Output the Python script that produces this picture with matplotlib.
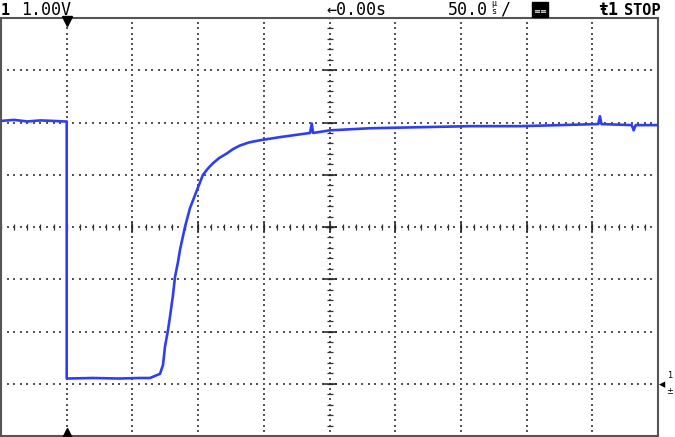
import numpy as np
import matplotlib
matplotlib.use('Agg')
import matplotlib.pyplot as plt
from matplotlib.patches import Rectangle

# scope settings: 1.00 V/div, 50 us/div, trigger at t=0, ground marker at 0 V
volts_per_div = 1.0
us_per_div = 50.0

# trace (time in us, voltage in V)
t_us = [-50, -40, -30, -20, -10, -2, 0, 0, 20, 40, 55, 63.4, 67.2, 71.0, 73.3,
        74.8, 77.1, 78.6, 80.9, 82.4, 84.7, 86.2, 90.0, 93.8, 99.2, 103.7, 107.5,
        111.3, 116.0, 122.0, 126.5, 131.9, 139.0, 147.1, 162.3, 185.2, 186.5,
        187.5, 200.4, 230.8, 268.9, 306.9, 345.0, 375.4, 404.5, 405.8, 407.0,
        430.0, 431.5, 433.0, 450.0]
v_volts = [5.03, 5.05, 5.02, 5.04, 5.03, 5.02, 5.02, 0.10, 0.11, 0.10, 0.11, 0.11,
           0.15, 0.19, 0.36, 0.71, 1.03, 1.28, 1.70, 2.04, 2.33, 2.56, 3.00, 3.36,
           3.71, 4.00, 4.12, 4.22, 4.32, 4.41, 4.49, 4.56, 4.62, 4.66, 4.72, 4.80,
           4.98, 4.80, 4.85, 4.89, 4.91, 4.93, 4.93, 4.95, 4.97, 5.12, 4.97, 4.95,
           4.85, 4.95, 4.95]

t_min, t_max = -50, 450
v_min, v_max = -1, 7

W, H = 675, 437
fig = plt.figure(figsize=(W / 100, H / 100), dpi=100)
ax = fig.add_axes([1 / W, 1 / H, 657 / W, 418 / H])
ax.set_xlim(t_min, t_max)
ax.set_ylim(v_min, v_max)
ax.set_xticks([])
ax.set_yticks([])
for s in ax.spines.values():
    s.set_color('#555555')
    s.set_linewidth(1.5)

dot = dict(marker='s', s=1.0, color='#555555', linewidths=0, zorder=1)
# dotted graticule, dots every 0.1 div
h_lines = np.arange(v_min + 1, v_max, volts_per_div)
v_lines = np.arange(t_min + us_per_div, t_max, us_per_div)
tx = np.arange(t_min, t_max + 0.01, us_per_div / 10)
vy = np.arange(v_min, v_max + 0.01, volts_per_div / 10)
for v in h_lines:
    ax.scatter(tx, np.full_like(tx, v), **dot)
for t in v_lines:
    ax.scatter(np.full_like(vy, t), vy, **dot)

# centre cross with minor ticks every 0.2 div
tc, vc = 200, 3
ticks_t = np.arange(t_min, t_max + 0.01, us_per_div / 5)
ticks_v = np.arange(v_min, v_max + 0.01, volts_per_div / 5)
ax.scatter(ticks_t, np.full_like(ticks_t, vc), marker='|', s=18, color='#333333',
           linewidths=0.9, zorder=1)
ax.scatter(np.full_like(ticks_v, tc), ticks_v, marker='_', s=22, color='#333333',
           linewidths=0.9, zorder=1)
maj_t = np.arange(t_min, t_max + 0.01, us_per_div)
maj_v = np.arange(v_min, v_max + 0.01, volts_per_div)
ax.scatter(maj_t, np.full_like(maj_t, vc), marker='|', s=55, color='#222222',
           linewidths=1.1, zorder=1)
ax.scatter(np.full_like(maj_v, tc), maj_v, marker='_', s=100, color='#222222',
           linewidths=1.1, zorder=1)
ax.plot([tc - 3, tc + 3], [vc, vc], color='#222222', lw=1.0, zorder=1)

# trace
ax.plot(t_us, v_volts, color='#2f3ff0', lw=1.9, zorder=3)

# trigger position markers
ax.plot([0], [v_max - 0.06], marker='v', ms=7, color='black', clip_on=False, zorder=4)
ax.plot([0], [v_min + 0.06], marker='^', ms=7, color='black', clip_on=False, zorder=4)

# ground marker on the right
def fx(px):
    return px / W
def fy(py):
    return 1 - py / H

fig.text(fx(659), fy(385), '\u25c2', fontsize=9, va='center', ha='left', color='black')
fig.text(fx(667), fy(376), '1', fontsize=6, va='center', ha='left', color='black')
fig.text(fx(666), fy(391), '\u00b1', fontsize=6, va='center', ha='left', color='black')

# status bar
mono = 'DejaVu Sans Mono'
base = fy(15)
fig.text(fx(1), base, '1', fontsize=11, fontweight='bold', family=mono, va='baseline')
fig.text(fx(21), base, '1.00V', fontsize=12, family=mono, va='baseline')
fig.text(fx(326), base, '\u21900.00s', fontsize=12, family=mono, va='baseline')
fig.text(fx(448), base, '50.0', fontsize=12, family=mono, va='baseline')
fig.text(fx(491), fy(16), '\u00b5\ns', fontsize=6, family=mono, va='bottom',
         linespacing=0.85)
fig.text(fx(500), base, '/', fontsize=12, family=mono, va='baseline')
fig.patches.append(Rectangle((fx(532), fy(17)), 16 / W, 15 / H, transform=fig.transFigure,
                             color='black'))
fig.text(fx(533), fy(14), '\u2261\u2261', fontsize=6, color='white', va='baseline')
fig.text(fx(598), base, '\u01671', fontsize=12, family=mono, fontweight='bold', va='baseline')
fig.text(fx(624), base, 'STOP', fontsize=11, family=mono, fontweight='bold', va='baseline')

fig.savefig('out.png', dpi=100)
